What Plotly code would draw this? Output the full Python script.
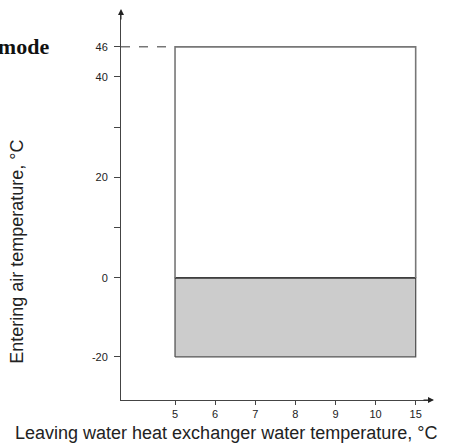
import plotly.graph_objects as go

# ---- data ----
x_categories = ["5", "6", "7", "8", "9", "10", "15"]
water_lo, water_hi = "5", "15"
air_max = 46
air_zero = 0
air_min = -20
upper_ticks = [10, 20, 30, 40, 46]
upper_labels = ["", "20", "", "40", "46"]
lower_ticks = [-20, 0]
lower_labels = ["-20", "0"]

# ---- layout geometry (pixels) ----
W, H = 452, 448
L, R, T, B = 121, 22, 13, 48
plot_h = H - T - B
plot_w = W - L - R
zero_px = 277.3           # pixel row of 0 °C
up_scale = 5.05           # px per °C above 0
lo_scale = 3.97           # px per °C below 0
y_bottom_px = H - B
overlap = 3

top_dom_lo_px = zero_px + overlap
top_range = [-(top_dom_lo_px - zero_px) / up_scale, (zero_px - T) / up_scale]
top_domain = [(y_bottom_px - top_dom_lo_px) / plot_h, 1]
bot_dom_hi_px = zero_px - overlap
bot_range = [-(y_bottom_px - zero_px) / lo_scale, (zero_px - bot_dom_hi_px) / lo_scale]
bot_domain = [0, (y_bottom_px - bot_dom_hi_px) / plot_h]

x_range = [-1.347, 6.357]

font = "Liberation Sans, Arial, Helvetica, sans-serif"

fig = go.Figure()

# invisible trace to register all categories
fig.add_trace(go.Scatter(x=x_categories, y=[air_zero] * len(x_categories),
                         mode="markers", marker=dict(opacity=0),
                         hoverinfo="skip", showlegend=False, yaxis="y"))

# gray region (below 0)
fig.add_trace(go.Scatter(
    x=[water_lo, water_hi, water_hi, water_lo, water_lo],
    y=[air_min, air_min, air_zero, air_zero, air_min],
    mode="lines", fill="toself", fillcolor="#cccccc", hoverinfo="skip",
    line=dict(color="#555555", width=1.3), showlegend=False, yaxis="y"))
fig.add_trace(go.Scatter(
    x=[water_lo, water_hi], y=[air_zero, air_zero], mode="lines",
    hoverinfo="skip",
    line=dict(color="#111111", width=1), showlegend=False, yaxis="y"))

# white region (0 .. 46)
fig.add_trace(go.Scatter(
    x=[water_lo, water_lo, water_hi, water_hi],
    y=[air_zero, air_max, air_max, air_zero],
    mode="lines", line=dict(color="#777777", width=1.6), hoverinfo="skip",
    showlegend=False, yaxis="y2"))

axis_common = dict(showline=True, linecolor="#444444", linewidth=1,
                   ticks="outside", tickcolor="#444444", ticklen=6,
                   ticklabelstandoff=4,
                   showgrid=False, zeroline=False,
                   tickfont=dict(family=font, size=11, color="#222222"))

fig.update_layout(
    width=W, height=H,
    margin=dict(l=L, r=R, t=T, b=B),
    paper_bgcolor="white", plot_bgcolor="rgba(0,0,0,0)",
    xaxis=dict(type="category", categoryorder="array", categoryarray=x_categories,
               range=x_range, showline=True, linecolor="#444444", linewidth=1,
               ticks="outside", tickcolor="#444444", ticklen=4, showgrid=False,
               tickfont=dict(family=font, size=11, color="#222222")),
    yaxis=dict(domain=bot_domain, range=bot_range, tickmode="array",
               tickvals=lower_ticks, ticktext=lower_labels, **axis_common),
    yaxis2=dict(domain=top_domain, range=top_range, tickmode="array",
                tickvals=upper_ticks, ticktext=upper_labels, anchor="x",
                **axis_common),
    showlegend=False,
)

# dashed guide from axis to the 46 °C corner
fig.add_shape(type="line", xref="x", yref="y2",
              x0=x_range[0], x1=x_categories.index(water_lo),
              y0=air_max, y1=air_max,
              line=dict(color="#333333", width=1, dash="dash"))

# axis arrows
fig.add_annotation(xref="paper", yref="paper", x=0, y=1 + 6 / plot_h,
                   ax=0, ay=12, showarrow=True, arrowhead=2, arrowsize=1.2,
                   arrowwidth=1, arrowcolor="#222222", standoff=0, text="")
fig.add_annotation(xref="paper", yref="paper", x=1 + 4 / plot_w, y=0,
                   ax=-12, ay=0, showarrow=True, arrowhead=2, arrowsize=1.2,
                   arrowwidth=1, arrowcolor="#222222", standoff=0, text="")

# titles
fig.add_annotation(xref="paper", yref="paper", x=(226 - L) / plot_w,
                   y=(y_bottom_px - 433) / plot_h, showarrow=False,
                   xanchor="center", yanchor="middle",
                   text="Leaving water heat exchanger water temperature, °C",
                   font=dict(family=font, size=18, color="#222222"))
fig.add_annotation(xref="paper", yref="paper", x=(17 - L) / plot_w,
                   y=(y_bottom_px - 251) / plot_h, showarrow=False, textangle=-90,
                   xanchor="center", yanchor="middle",
                   text="Entering air temperature, °C",
                   font=dict(family=font, size=18, color="#222222"))
fig.add_annotation(xref="paper", yref="paper", x=(51 - L) / plot_w,
                   y=(y_bottom_px - 45) / plot_h, showarrow=False,
                   xanchor="right", yanchor="middle", text="<b>Cooling mode</b>",
                   font=dict(family="Liberation Serif, Times New Roman, serif",
                             size=22, color="#111111"))

fig.write_html("out.html", config={"displayModeBar": False},
               post_script="document.body.style.margin='0';")
